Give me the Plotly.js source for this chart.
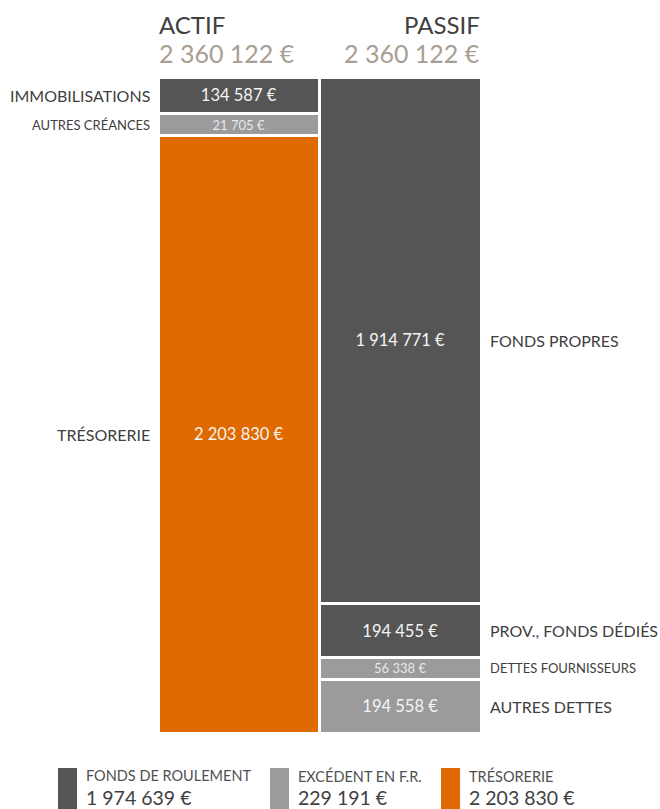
<!DOCTYPE html>
<html>
<head>
<meta charset="utf-8">
<script src="https://cdn.plot.ly/plotly-3.0.1.min.js"></script>
<style>html,body{margin:0;padding:0;background:#fff;}#chart{width:660px;height:809px;}</style>
</head>
<body>
<div id="chart"></div>
<script>
// ---- DATA ----
const columns = ['ACTIF', 'PASSIF'];
const actifLabels = ['IMMOBILISATIONS', 'AUTRES CRÉANCES', 'TRÉSORERIE'];
const actifValues = [134587, 21705, 2203830];
const passifLabels = ['FONDS PROPRES', 'PROV., FONDS DÉDIÉS', 'DETTES FOURNISSEURS', 'AUTRES DETTES'];
const passifValues = [1914771, 194455, 56338, 194558];
const legendLabels = ['FONDS DE ROULEMENT', 'EXCÉDENT EN F.R.', 'TRÉSORERIE'];
const legendValues = [1974639, 229191, 2203830];

// ---- STYLE ----
const DARK = '#555555', LIGHT = '#9b9b9b', ORANGE = '#e06a00';
const actifColors = [DARK, LIGHT, ORANGE];
const passifColors = [DARK, DARK, LIGHT, LIGHT];
const TEXT = '#404040', TOTAL = '#a89e94';
const FONT = 'Lato, "Open Sans", sans-serif';

function fmt(v) { return String(Math.round(v)).replace(/\B(?=(\d{3})+(?!\d))/g, ' ') + ' €'; }
const sum = a => a.reduce((s, v) => s + v, 0);

// display heights: very small segments get a minimum visible height
const MIN_SHARE = 22 / 655;
function displayHeights(vals) {
  const tot = sum(vals);
  const minV = MIN_SHARE * tot;
  const small = vals.map(v => v < minV);
  const fixed = small.filter(s => s).length * minV;
  const rest = sum(vals.filter((v, i) => !small[i]));
  return vals.map((v, i) => small[i] ? minV : v * (tot - fixed) / rest);
}

// plot area in pixels
const L = 158, R = 481, T = 77, B = 733;
const px = x => (x - L) / (R - L);
const py = y => (B - y) / (B - T);

const traces = [];
const annotations = [];

function addColumn(col, labels, vals, colors, side) {
  const h = displayHeights(vals);
  let cum = 0;
  labels.forEach((lab, i) => {
    const small = vals[i] < MIN_SHARE * sum(vals);
    traces.push({
      type: 'bar', x: [col], y: [h[i]], name: lab,
      marker: {color: colors[i], line: {color: '#ffffff', width: 3}},
      text: [fmt(vals[i])], textposition: 'inside', insidetextanchor: 'middle',
      textangle: 0, constraintext: 'none',
      textfont: {family: FONT, size: small ? 13 : 16.5, color: small ? '#e8e8e8' : '#f4f4f4'},
      hoverinfo: 'skip', showlegend: false
    });
    const mid = cum + h[i] / 2;
    cum += h[i];
    annotations.push({
      xref: 'paper', yref: 'y', x: side === 'left' ? px(152) : px(488), y: mid,
      xanchor: side === 'left' ? 'right' : 'left', yanchor: 'middle',
      text: lab, showarrow: false,
      font: {family: FONT, size: small ? 13 : 16, color: TEXT}
    });
  });
}
addColumn(columns[0], actifLabels, actifValues, actifColors, 'left');
addColumn(columns[1], passifLabels, passifValues, passifColors, 'right');

// headers
annotations.push(
  {xref: 'paper', yref: 'paper', x: px(157), y: py(25), xanchor: 'left', yanchor: 'middle', text: columns[0], showarrow: false, font: {family: FONT, size: 24, color: TEXT}},
  {xref: 'paper', yref: 'paper', x: px(157), y: py(53), xanchor: 'left', yanchor: 'middle', text: fmt(sum(actifValues)), showarrow: false, font: {family: FONT, size: 25, color: TOTAL}},
  {xref: 'paper', yref: 'paper', x: px(482), y: py(25), xanchor: 'right', yanchor: 'middle', text: columns[1], showarrow: false, font: {family: FONT, size: 24, color: TEXT}},
  {xref: 'paper', yref: 'paper', x: px(482), y: py(53), xanchor: 'right', yanchor: 'middle', text: fmt(sum(passifValues)), showarrow: false, font: {family: FONT, size: 25, color: TOTAL}}
);

// custom legend
const legendColors = [DARK, LIGHT, ORANGE];
const legendX = [58, 270, 441];
const shapes = [];
legendLabels.forEach((lab, i) => {
  const x0 = legendX[i];
  shapes.push({type: 'rect', xref: 'paper', yref: 'paper', x0: px(x0), x1: px(x0 + 19), y0: py(768), y1: py(820), fillcolor: legendColors[i], line: {width: 0}});
  annotations.push(
    {xref: 'paper', yref: 'paper', x: px(x0 + 27), y: py(775.5), xanchor: 'left', yanchor: 'middle', borderpad: 0, text: lab, showarrow: false, font: {family: FONT, size: 14.5, color: '#505050'}},
    {xref: 'paper', yref: 'paper', x: px(x0 + 27), y: py(797), xanchor: 'left', yanchor: 'middle', borderpad: 0, text: fmt(legendValues[i]), showarrow: false, font: {family: FONT, size: 19.5, color: TEXT}}
  );
});

const layout = {
  width: 660, height: 809,
  margin: {l: L, r: 660 - R, t: T, b: 809 - B, pad: 0},
  paper_bgcolor: '#ffffff', plot_bgcolor: '#ffffff',
  barmode: 'stack', bargap: 0,
  showlegend: false,
  xaxis: {visible: false, range: [-0.5, 1.5], type: 'category', fixedrange: true},
  yaxis: {visible: false, range: [sum(actifValues), 0], fixedrange: true},
  annotations: annotations, shapes: shapes,
  hovermode: false
};

Plotly.newPlot('chart', traces, layout, {displayModeBar: false, staticPlot: true});
</script>
</body>
</html>
